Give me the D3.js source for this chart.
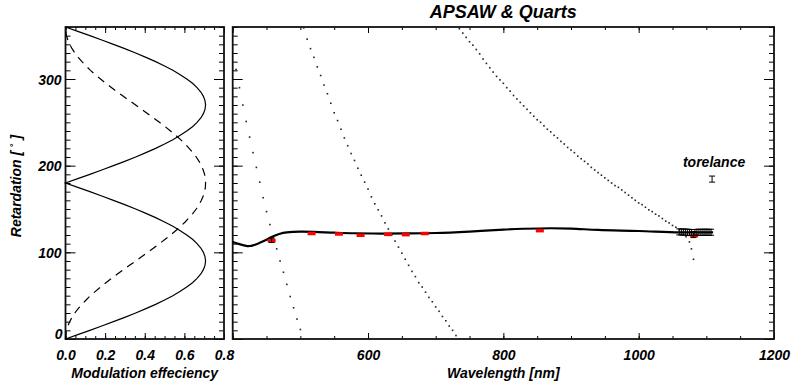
<!DOCTYPE html>
<html>
<head>
<meta charset="utf-8">
<script src="https://cdn.jsdelivr.net/npm/d3@7"></script>
<style>
  body { margin: 0; background: #fff; }
  text { font-family: "Liberation Sans", Arial, sans-serif; font-weight: bold; font-style: italic; fill: #000; }
</style>
</head>
<body>
<div id="vis"></div>
<script>
// ---------- data ----------
// left panel: retardation [deg] vs modulation efficiency
const retardation = [0,5,10,15,20,25,30,35,40,45,50,55,60,65,70,75,80,85,90,95,100,105,110,115,120,125,130,135,140,145,150,155,160,165,170,175,180,
  185,190,195,200,205,210,215,220,225,230,235,240,245,250,255,260,265,270,275,280,285,290,295,300,305,310,315,320,325,330,335,340,345,350,355,360];
const effLinear = [0,.062,.123,.183,.242,.299,.354,.406,.455,.5,.542,.579,.612,.641,.664,.683,.696,.704,.707,
  .704,.696,.683,.664,.641,.612,.579,.542,.5,.455,.406,.354,.299,.242,.183,.123,.062,0,
  .062,.123,.183,.242,.299,.354,.406,.455,.5,.542,.579,.612,.641,.664,.683,.696,.704,.707,
  .704,.696,.683,.664,.641,.612,.579,.542,.5,.455,.406,.354,.299,.242,.183,.123,.062,0];
const effCircular = [0,.001,.005,.012,.021,.033,.047,.064,.083,.104,.126,.151,.177,.204,.233,.262,.292,.323,.354,
  .384,.415,.445,.474,.503,.530,.556,.581,.604,.624,.643,.660,.674,.686,.695,.702,.706,.707,
  .706,.702,.695,.686,.674,.660,.643,.624,.604,.581,.556,.530,.503,.474,.445,.415,.384,.354,
  .323,.292,.262,.233,.204,.177,.151,.126,.104,.083,.064,.047,.033,.021,.012,.005,.001,0];

// right panel: measured retardation curve
const curveNm  = [400,410,420,425,430,440,450,455,460,470,480,490,500,520,550,580,620,660,700,750,800,830,870,900,940,1000,1060,1100,1110];
const curveDeg = [112,109.5,107.5,107.3,108,111,114.5,116.8,118.5,121.5,123,123.6,123.8,123.6,122.7,122,121.7,121.8,122.3,124,126.3,127.2,127.8,127.4,125.8,124.6,123,123,123];

// dotted (wrapped) retardation of the quartz plate
const dotNm  = [405,410,415,420,425,430,435,440,445,450,455,460,465,470,475,480,485,490,495,500,
  505,510,515,520,525,530,535,540,545,550,555,560,565,570,575,580,585,590,595,600,605,610,615,620,625,630,635,640,645,650,
  655,660,665,670,675,680,685,690,695,700,705,710,715,720,725,730,
  735,740,745,750,755,760,765,770,775,780,785,790,795,800,805,810,815,820,825,830,835,840,845,850,855,860,865,870,875,880,
  885,890,895,900,905,910,915,920,925,930,935,940,945,950,955,960,965,970,975,980,985,990,995,1000,1005,1010,1015,1020,
  1025,1030,1035,1040,1045,1050,1055,1060,1065,1070,1075,1078,1081];
const dotDeg = [311,290,270,251,233,215,198,181,163,147,132,117,104,90,77,63,49,36,23,11,
  359,346,335,325,314,304,293,283,272,261,252,242,232,223,214,206,197,189,181,173,164,156,149,142,134,127,120,113,106,99,
  92,85,78,72,65,60,54,48,43,37,32,26,21,15,10,4,
  358,353,348,343,339,334,329,323,318,313,308,303,299,295,290,286,281,277,273,269,265,261,257,253,250,246,242,239,235,232,
  228,225,221,218,215,211,208,205,202,198,195,192,189,186,183,180,177,175,172,169,166,163,160,157,155,152,149,147,
  144,142,139,136,134,131,129,126,123,118,112,104,92];

// red measurements
const redNm  = [457.5,516.6,557,589,629.7,655.8,683.8,853.9,1082];
const redDeg = [113.8,122,121.5,120,121,120.7,122,125.3,119.6];

// black error bars (one at 457 nm, a dense cluster near the long-wavelength end)
const errNm  = [457.5,1060,1063,1066,1069,1072,1075,1078,1081,1083,1086,1089,1092,1095,1098,1101,1104,1107];
const errDeg = [113.8,123.6,123.5,123.4,123.3,123.2,123,122.8,120.5,122.8,123,123.2,123.1,123,123.3,123.1,123,123.2];
const errHalf = [2.5,3.5,3.5,3.5,3.5,3.5,3.5,3.5,3.5,3.5,3.5,3.5,3.5,3.5,3.5,3.5,3.5,3.5];

// tolerance marker
const tolNm = [1108.5], tolDeg = [184.5], tolHalf = [3.5];

const effTicks = [0, 0.2, 0.4, 0.6, 0.8];
const effLabels = ["0.0", "0.2", "0.4", "0.6", "0.8"];
const retTicks = [0, 100, 200, 300];
const wlTicks = [400, 600, 800, 1000, 1200];
const wlLabels = ["", "600", "800", "1000", "1200"];

// ---------- layout ----------
const W = 792, H = 389;
const yTop = 27, yBot = 339;
const L = { x0: 65.5, x1: 224 };
const R = { x0: 232.7, x1: 774 };

const svg = d3.select("#vis").append("svg").attr("width", W).attr("height", H);

const y = d3.scaleLinear().domain([0, 360]).range([yBot, yTop]);
const xL = d3.scaleLinear().domain([0, 0.8]).range([L.x0, L.x1]);
const xR = d3.scaleLinear().domain([400, 1200]).range([R.x0, R.x1]);

function frame(x, xMajor, xMinor, xFmt) {
  const g = svg.append("g").attr("class", "axes");
  // minor ticks
  g.append("g").attr("transform", `translate(0,${yBot})`)
    .call(d3.axisBottom(x).tickValues(xMinor).tickSize(-3).tickFormat(""));
  g.append("g").attr("transform", `translate(0,${yTop})`)
    .call(d3.axisTop(x).tickValues(xMinor).tickSize(-3).tickFormat(""));
  g.append("g").attr("transform", `translate(${x.range()[0]},0)`)
    .call(d3.axisLeft(y).tickValues(d3.range(0, 361, 10)).tickSize(-5).tickFormat(""));
  g.append("g").attr("transform", `translate(${x.range()[1]},0)`)
    .call(d3.axisRight(y).tickValues(d3.range(0, 361, 10)).tickSize(-5).tickFormat(""));
  // major ticks
  const xb = g.append("g").attr("transform", `translate(0,${yBot})`)
    .call(d3.axisBottom(x).tickValues(xMajor).tickSize(-6).tickPadding(11).tickFormat(xFmt));
  g.append("g").attr("transform", `translate(0,${yTop})`)
    .call(d3.axisTop(x).tickValues(xMajor).tickSize(-6).tickFormat(""));
  g.append("g").attr("transform", `translate(${x.range()[0]},0)`)
    .call(d3.axisLeft(y).tickValues(retTicks).tickSize(-10).tickFormat(""));
  g.append("g").attr("transform", `translate(${x.range()[1]},0)`)
    .call(d3.axisRight(y).tickValues(retTicks).tickSize(-10).tickFormat(""));
  g.selectAll(".domain").remove();
  g.selectAll(".tick line").attr("stroke", "#000").attr("stroke-width", 1);
  g.append("rect")
    .attr("x", x.range()[0]).attr("y", yTop)
    .attr("width", x.range()[1] - x.range()[0]).attr("height", yBot - yTop)
    .attr("fill", "none").attr("stroke", "#111").attr("stroke-width", 1.8);
  xb.selectAll("text").style("font-size", "14px");
  return g;
}

// left panel
frame(xL, effTicks, d3.range(0, 0.8001, 0.05), (d, i) => effLabels[i]);
const yl = svg.append("g").attr("transform", `translate(${L.x0},0)`)
  .call(d3.axisLeft(y).tickValues(retTicks).tickSize(0).tickPadding(4));
yl.select(".domain").remove();
yl.selectAll("text").style("font-size", "14px")
  .attr("dy", d => d === 0 ? "-0.05em" : "0.36em")
  .attr("x", d => d === 0 ? -3 : -4);

const lineL = (vals) => d3.line()
  .x((d, i) => xL(vals[i]))
  .y(d => y(d));

svg.append("path").datum(retardation)
  .attr("d", lineL(effLinear))
  .attr("fill", "none").attr("stroke", "#000").attr("stroke-width", 1.2);
svg.append("path").datum(retardation)
  .attr("d", lineL(effCircular))
  .attr("fill", "none").attr("stroke", "#000").attr("stroke-width", 1.2)
  .attr("stroke-dasharray", "8,6");

// right panel
frame(xR, wlTicks, d3.range(400, 1201, 50), (d, i) => wlLabels[i]);

const plot = svg.append("g");

plot.selectAll("rect.dot").data(dotNm).join("rect")
  .attr("class", "dot")
  .attr("x", d => xR(d) - 0.8)
  .attr("y", (d, i) => y(dotDeg[i]) - 0.8)
  .attr("width", 1.6).attr("height", 1.6)
  .attr("fill", "#222");

plot.append("path").datum(curveNm)
  .attr("d", d3.line().x(d => xR(d)).y((d, i) => y(curveDeg[i])).curve(d3.curveCatmullRom))
  .attr("fill", "none").attr("stroke", "#000").attr("stroke-width", 2.2);

plot.selectAll("rect.red").data(redNm).join("rect")
  .attr("class", "red")
  .attr("x", d => xR(d) - 4)
  .attr("y", (d, i) => y(redDeg[i]) - 1.5)
  .attr("width", 8).attr("height", 3.5)
  .attr("fill", "#f00");

function errorBars(nm, deg, half, cls) {
  const g = plot.append("g").attr("class", cls)
    .attr("stroke", "#000").attr("stroke-width", 1);
  nm.forEach((d, i) => {
    const cx = xR(d), y1 = y(deg[i] + half[i]), y2 = y(deg[i] - half[i]);
    g.append("line").attr("x1", cx).attr("x2", cx).attr("y1", y1).attr("y2", y2);
    g.append("line").attr("x1", cx - 3).attr("x2", cx + 3).attr("y1", y1).attr("y2", y1);
    g.append("line").attr("x1", cx - 3).attr("x2", cx + 3).attr("y1", y2).attr("y2", y2);
  });
}
errorBars(errNm, errDeg, errHalf, "err");
errorBars(tolNm, tolDeg, tolHalf, "tol");

svg.append("text").attr("x", xR(tolNm[0]) + 2).attr("y", 167)
  .attr("text-anchor", "middle").style("font-size", "14px").text("torelance");

// titles
svg.append("text").attr("x", (R.x0 + R.x1) / 2).attr("y", 18)
  .attr("text-anchor", "middle").style("font-size", "18px").text("APSAW & Quarts");
svg.append("text").attr("x", (R.x0 + R.x1) / 2).attr("y", 378)
  .attr("text-anchor", "middle").style("font-size", "14px").text("Wavelength [nm]");
svg.append("text").attr("x", (L.x0 + L.x1) / 2).attr("y", 378)
  .attr("text-anchor", "middle").style("font-size", "14px").text("Modulation effeciency");
const ylab = svg.append("text")
  .attr("transform", "translate(21,186) rotate(-90)")
  .attr("text-anchor", "middle").style("font-size", "14px");
ylab.append("tspan").text("Retardation [ ");
ylab.append("tspan").attr("baseline-shift", "super").style("font-size", "9px").style("font-style", "normal").text("°");
ylab.append("tspan").text(" ]");
</script>
</body>
</html>
